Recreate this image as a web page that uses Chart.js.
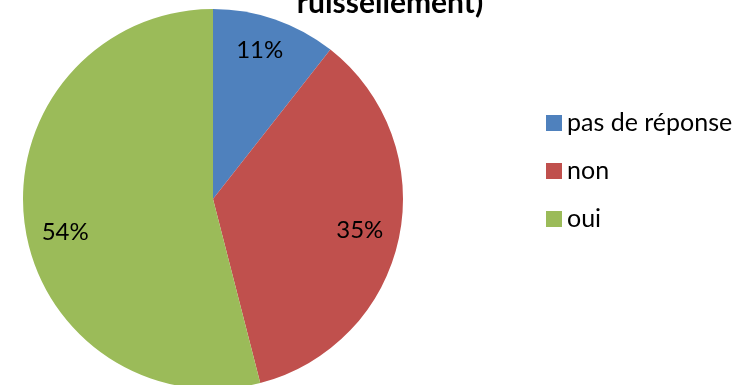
<!DOCTYPE html>
<html>
<head>
<meta charset="utf-8">
<script src="https://cdn.jsdelivr.net/npm/chart.js@4"></script>
<style>
  html, body { margin: 0; padding: 0; background: #fff; overflow: hidden; }
  #wrap { width: 745px; height: 400px; }
</style>
</head>
<body>
<div id="wrap"><canvas id="pieChart" width="745" height="400"></canvas></div>
<script>
const labels = ["pas de réponse", "non", "oui"];
const values = [10.6, 35.4, 54];
const colors = ["#4F81BD", "#C0504D", "#9BBB59"];
const titleText = "ruissellement)";

const fontFamily = "Lato, 'Open Sans', sans-serif";

// pourcentages dans les parts (petit décalage façon Excel)
const labelNudge = [[-3, -5], [-2, 0], [3, 14]];
const sliceLabels = {
  id: "sliceLabels",
  afterDatasetsDraw(chart) {
    const ctx = chart.ctx;
    const meta = chart.getDatasetMeta(0);
    const total = values.reduce((a, b) => a + b, 0);
    ctx.save();
    ctx.font = "24px " + fontFamily;
    ctx.fillStyle = "#000";
    ctx.textAlign = "center";
    ctx.textBaseline = "middle";
    meta.data.forEach((arc, i) => {
      const mid = (arc.startAngle + arc.endAngle) / 2;
      const r = arc.outerRadius * 0.8;
      const x = arc.x + Math.cos(mid) * r + labelNudge[i][0];
      const y = arc.y + Math.sin(mid) * r + labelNudge[i][1];
      ctx.fillText(Math.round(values[i] / total * 100) + "%", x, y);
    });
    ctx.restore();
  }
};

// légende à droite + titre coupé en haut
const extras = {
  id: "extras",
  afterDraw(chart) {
    const ctx = chart.ctx;
    ctx.save();
    ctx.font = "bold 30px " + fontFamily;
    ctx.fillStyle = "#000";
    ctx.textAlign = "center";
    ctx.textBaseline = "alphabetic";
    ctx.fillText(titleText, 390, 13);

    ctx.font = "25px " + fontFamily;
    ctx.textAlign = "left";
    labels.forEach((lab, i) => {
      const y = 115 + i * 48;
      ctx.fillStyle = colors[i];
      ctx.fillRect(546, y, 16, 16);
      ctx.fillStyle = "#000";
      ctx.fillText(lab, 567, y + 16);
    });
    ctx.restore();
  }
};

new Chart(document.getElementById("pieChart"), {
  type: "pie",
  data: {
    labels: labels,
    datasets: [{
      data: values,
      backgroundColor: colors,
      borderWidth: 0
    }]
  },
  options: {
    responsive: false,
    animation: false,
    layout: { padding: { left: 23, right: 342, top: 9, bottom: 11 } },
    plugins: {
      legend: { display: false },
      tooltip: { enabled: false }
    }
  },
  plugins: [sliceLabels, extras]
});
</script>
</body>
</html>
